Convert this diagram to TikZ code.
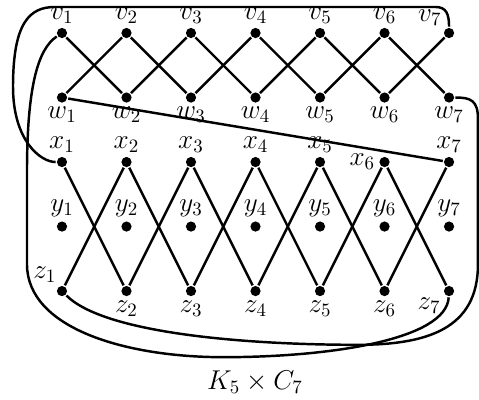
\documentclass[tikz,border=0pt]{standalone}
\usepackage{tikz}
\usetikzlibrary{positioning}

\begin{document}
\begin{tikzpicture}[
    line width=1.3pt,
    vert/.style={circle, fill, inner sep=0pt, minimum size=5.4pt},
    every label/.style={font=\Large, inner sep=1pt}
]
\useasboundingbox (-1.153,0.614) rectangle (7.757,-6.826);
% vertices, one row at a time
\foreach \i/\p in {1/above,2/above,3/above,4/above,5/above,6/above,7/above left}
    \node[vert, label=\p:$v_\i$] (v\i) at ({1.2*(\i-1)},0) {};
\foreach \i/\p in {1/below,2/below,3/below,4/below,5/below,6/below,7/below}
    \node[vert, label=\p:$w_\i$] (w\i) at ({1.2*(\i-1)},-1.2) {};
\foreach \i/\p in {1/above,2/above,3/above,4/above,5/above,6/left,7/above}
    \node[vert, label=\p:$x_\i$] (x\i) at ({1.2*(\i-1)},-2.4) {};
\foreach \i in {1,...,7}
    \node[vert, label=above:$y_\i$] (y\i) at ({1.2*(\i-1)},-3.6) {};
\foreach \i/\p in {1/115,2/below,3/below,4/below,5/below,6/below,7/210}
    \node[vert, label=\p:$z_\i$] (z\i) at ({1.2*(\i-1)},-4.8) {};
% zig-zag edges
\foreach \i [count=\j from 2] in {1,...,6} {
    \draw (v\i) -- (w\j);
    \draw (w\i) -- (v\j);
    \draw (x\i) -- (z\j);
    \draw (z\i) -- (x\j);
}
\draw (w1) -- (x7);
% wrap-around edges
\draw (v7) .. controls (7.2,0.35) and (7.15,0.484) .. (6.95,0.484) -- (-0.13,0.484)
    .. controls (-0.6,0.484) and (-0.911,0.2) .. (-0.911,-1.0)
    .. controls (-0.911,-2.0) and (-0.4,-2.4) .. (x1);
\draw (v1) .. controls (-0.45,-0.3) and (-0.651,-1.0) .. (-0.651,-2.6) -- (-0.651,-4.3)
    .. controls (-0.651,-5.5) and (1.2,-6.03) .. (3.0,-6.03)
    .. controls (5.0,-6.03) and (7.15,-5.7) .. (z7);
\draw (w7) .. controls (7.6,-1.2) and (7.738,-1.25) .. (7.738,-1.6) -- (7.738,-4.3)
    .. controls (7.738,-5.5) and (6.8,-5.8) .. (5.5,-5.8)
    .. controls (3.5,-5.8) and (0.8,-5.6) .. (z1);
\node[font=\Large] (cap) at (3.59,-6.5) {$K_5\times C_7$};
\end{tikzpicture}
\end{document}
